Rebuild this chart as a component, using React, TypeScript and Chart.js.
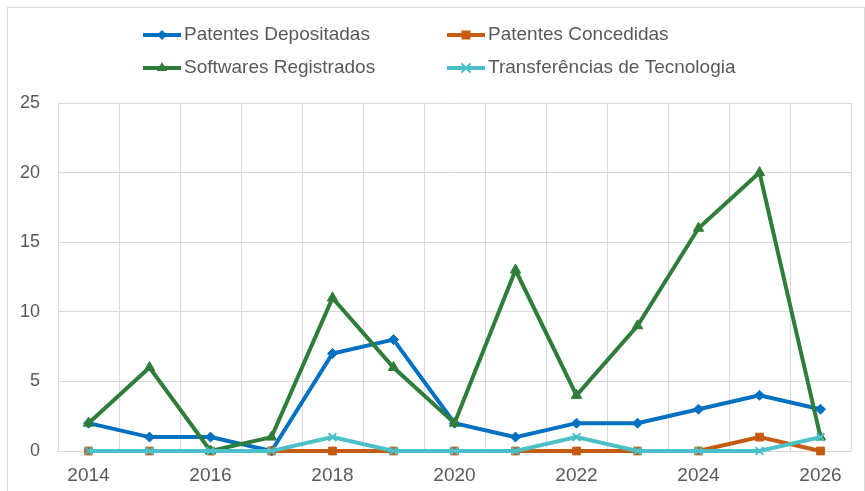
import React, { useEffect, useRef } from 'react';
import { Chart, registerables } from 'chart.js';

Chart.register(...registerables);

const years = ['2014', '2015', '2016', '2017', '2018', '2019', '2020', '2021', '2022', '2023', '2024', '2025', '2026'];
const patentesDepositadas = [2, 1, 1, 0, 7, 8, 2, 1, 2, 2, 3, 4, 3];
const patentesConcedidas = [0, 0, 0, 0, 0, 0, 0, 0, 0, 0, 0, 1, 0];
const softwaresRegistrados = [2, 6, 0, 1, 11, 6, 2, 13, 4, 9, 16, 20, 1];
const transferencias = [0, 0, 0, 0, 1, 0, 0, 0, 1, 0, 0, 0, 1];
const seriesNames = ['Patentes Depositadas', 'Patentes Concedidas', 'Softwares Registrados', 'Transferências de Tecnologia'];
const yMin = 0;
const yMax = 25;
const yStep = 5;

const COLORS = ['#0070C0', '#C55A11', '#2E7D3A', '#4BC0C8'];
const STYLES = ['rectRot', 'rect', 'triangle', 'crossRot'];
const FONT = '"Liberation Sans", Arial, sans-serif';
const TEXT = '#595959';
const GRID = '#d9d9d9';

function drawMarker(ctx: CanvasRenderingContext2D, style: string, x: number, y: number, color: string) {
  ctx.save();
  ctx.fillStyle = color;
  ctx.strokeStyle = color;
  ctx.beginPath();
  if (style === 'rectRot') {
    const r = 5;
    ctx.moveTo(x, y - r); ctx.lineTo(x + r, y); ctx.lineTo(x, y + r); ctx.lineTo(x - r, y); ctx.closePath();
    ctx.fill();
  } else if (style === 'rect') {
    const s = 4.5;
    ctx.rect(x - s, y - s, 2 * s, 2 * s);
    ctx.fill();
  } else if (style === 'triangle') {
    const r = 6;
    ctx.moveTo(x, y - r); ctx.lineTo(x + r * 0.87, y + r * 0.5); ctx.lineTo(x - r * 0.87, y + r * 0.5); ctx.closePath();
    ctx.fill();
  } else {
    const r = 4.5;
    ctx.lineWidth = 2;
    ctx.moveTo(x - r, y - r); ctx.lineTo(x + r, y + r);
    ctx.moveTo(x + r, y - r); ctx.lineTo(x - r, y + r);
    ctx.stroke();
  }
  ctx.restore();
}

const legendSlots = [
  { x: 143, y: 35 },
  { x: 447, y: 35 },
  { x: 143, y: 68 },
  { x: 447, y: 68 },
];

const excelLegend = {
  id: 'excelLegend',
  afterDraw(chart: any) {
    const ctx: CanvasRenderingContext2D = chart.ctx;
    chart.data.datasets.forEach((ds: any, i: number) => {
      const slot = legendSlots[i];
      ctx.save();
      ctx.strokeStyle = ds.borderColor;
      ctx.lineWidth = 4;
      ctx.beginPath();
      ctx.moveTo(slot.x, slot.y);
      ctx.lineTo(slot.x + 38, slot.y);
      ctx.stroke();
      ctx.restore();
      drawMarker(ctx, ds.pointStyle, slot.x + 19, slot.y, ds.borderColor);
      ctx.save();
      ctx.font = `19px ${FONT}`;
      ctx.fillStyle = TEXT;
      ctx.textBaseline = 'middle';
      ctx.textAlign = 'left';
      ctx.fillText(ds.label, slot.x + 41, slot.y);
      ctx.restore();
    });
  },
};

export default function App() {
  const ref = useRef<HTMLCanvasElement | null>(null);

  useEffect(() => {
    if (!ref.current) return;
    const values = [patentesDepositadas, patentesConcedidas, softwaresRegistrados, transferencias];
    const radii = [5, 5.5, 6, 5.5];
    const chart = new Chart(ref.current, {
      type: 'line',
      data: {
        labels: years,
        datasets: values.map((v, i) => ({
          label: seriesNames[i],
          data: v,
          borderColor: COLORS[i],
          backgroundColor: COLORS[i],
          pointBackgroundColor: COLORS[i],
          pointBorderColor: COLORS[i],
          pointStyle: STYLES[i] as any,
          pointRadius: radii[i],
          pointBorderWidth: i === 3 ? 2 : 1,
          borderWidth: 4,
          tension: 0,
          fill: false,
          clip: false as any,
          order: 3 - i,
        })),
      },
      options: {
        animation: false,
        responsive: false,
        devicePixelRatio: 1,
        layout: { padding: { top: 103, left: 0, right: 14, bottom: 0 } },
        plugins: {
          legend: { display: false },
          tooltip: { enabled: false },
        },
        scales: {
          x: {
            type: 'category',
            offset: true,
            grid: { offset: true, color: GRID, lineWidth: 1, drawTicks: false },
            border: { display: false },
            ticks: {
              autoSkip: false,
              maxRotation: 0,
              padding: 13,
              color: TEXT,
              font: { family: FONT, size: 19 },
              callback: (_v: any, idx: number) => (idx % 2 === 0 ? years[idx] : ''),
            },
            afterFit: (s: any) => { s.height = 40; },
          },
          y: {
            min: yMin,
            max: yMax,
            grid: { color: GRID, lineWidth: 1, drawTicks: false },
            border: { display: false },
            ticks: {
              stepSize: yStep,
              padding: 18,
              color: TEXT,
              font: { family: FONT, size: 18 },
            },
            afterFit: (s: any) => { s.width = 58; },
          },
        },
      },
      plugins: [excelLegend],
    });
    return () => chart.destroy();
  }, []);

  return (
    <div style={{ position: 'fixed', left: 0, top: 0, width: 865, height: 491, overflow: 'hidden', background: '#fff' }}>
      <div style={{ position: 'absolute', left: 7, top: 7, width: 856, height: 600, border: `1px solid ${GRID}`, boxSizing: 'content-box' }} />
      <canvas ref={ref} width={865} height={491} style={{ position: 'absolute', left: 0, top: 0, display: 'block' }} />
    </div>
  );
}
